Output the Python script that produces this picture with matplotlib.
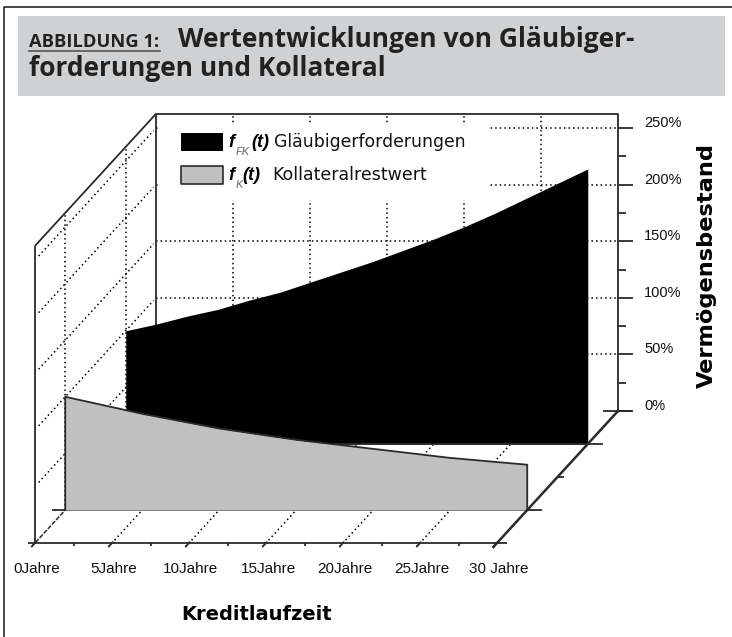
import numpy as np
import matplotlib.pyplot as plt
from matplotlib.transforms import Affine2D

years_fk = [0, 2, 4, 6, 8, 10, 12, 14, 16, 18, 20, 22, 24, 26, 28, 30]
values_fk = [100, 106, 113, 119, 127, 134, 143, 152, 161, 171, 181, 192, 204, 217, 230, 243]
years_k = [0, 5, 10, 15, 20, 25, 30]
values_k = [100, 85, 72, 62, 54, 46, 40]
year_ticks = [0, 5, 10, 15, 20, 25, 30]
year_labels = ['0Jahre', '5Jahre', '10Jahre', '15Jahre', '20Jahre', '25Jahre', '30 Jahre']
pct_ticks = [0, 50, 100, 150, 200, 250]
pct_labels = ['0%', '50%', '100%', '150%', '200%', '250%']
pct_top = 262.5
depth_fk = 0.75
depth_k = 0.25

W, H = 732, 637
DARK = '#2a2a2a'
fig = plt.figure(figsize=(W / 100, H / 100), dpi=100)
ax = fig.add_axes([0, 0, 1, 1])
ax.set_xlim(0, W)
ax.set_ylim(H, 0)
ax.axis('off')

# oblique projection: front corner (35,543), 15.4 px/year, 1.132 px/%, depth goes +121,-132 px
X0, Y0, PX_YEAR, PX_PCT, DX, DY = 35, 543, 15.4, 1.132, 121, 132


def plane(depth):
    # (year, percent) at a fixed depth
    return Affine2D().scale(PX_YEAR, -PX_PCT).translate(X0 + depth * DX, Y0 - depth * DY) + ax.transData


floor = Affine2D(np.array([[PX_YEAR, DX, X0], [0, -DY, Y0], [0, 0, 1.0]])) + ax.transData  # (year, depth)
wall = Affine2D(np.array([[DX, 0, X0], [-DY, -PX_PCT, Y0], [0, 0, 1.0]])) + ax.transData  # (depth, percent)
back = plane(1)
front = plane(0)

dots = dict(color='black', lw=1.1, ls=(0, (1, 2.0)), zorder=1)
solid = dict(color=DARK, lw=1.3, zorder=6, solid_capstyle='butt')
solid_back = dict(solid, zorder=2.5)

# frame and title box
ax.plot([3.5, 3.5, W], [H, 6.5, 6.5], color=DARK, lw=1.2)
ax.fill_between([18, 725], 16, 96, color='#d0d1d3', lw=0)
ax.text(29, 47, 'ABBILDUNG 1:', family='Open Sans', weight='bold', fontsize=13.2, color='#222222', va='baseline')
ax.plot([29, 160], [50.5, 50.5], color='#555555', lw=1.2)
ax.text(178, 47, 'Wertentwicklungen von Gläubiger-', family='Open Sans', weight='bold',
        fontsize=19, color='#222222', va='baseline')
ax.text(29, 76.5, 'forderungen und Kollateral', family='Open Sans', weight='bold',
        fontsize=19, color='#222222', va='baseline')

# dotted grid: back wall
for t in year_ticks[1:-1]:
    ax.plot([t, t], [0, 261], transform=back, **dots)
for p in pct_ticks[1:]:
    ax.plot([0, 30], [p, p], transform=back, **dots)
# dotted grid: side wall
for p in pct_ticks[1:]:
    ax.plot([0.03, 0.98], [p, p], transform=wall, **dots)
for d in [depth_k, depth_fk]:
    ax.plot([d, d], [0, pct_top], transform=wall, **dots)
# dotted grid: floor
for t in year_ticks[1:-1]:
    ax.plot([t, t], [-0.03, 1], transform=floor, **dots)

# legend background hides the grid
ax.fill_between([158, 489], 123, 200, color='white', lw=0, zorder=2)

# box edges
ax.plot([0, 0, 30, 30], [0, pct_top, pct_top, 0], transform=back, **solid_back)
ax.plot([0, 1], [pct_top, pct_top], transform=wall, **solid)
ax.plot([0, 0], [0, pct_top], transform=front, **solid)
ax.plot([0, 0], [-0.03, 1], transform=floor, color=DARK, lw=1.1, ls=(0, (3, 1)), zorder=1.5)
ax.plot([30, 30], [-0.03, 1], transform=floor, color=DARK, lw=1.8, zorder=6)
ax.plot([-0.45, 30.65], [0, 0], transform=front, **solid)
ax.plot([29.0, 30.9], [0, 0], transform=back, **solid)
ax.plot([-0.8, 30.9], [0, 0], transform=plane(depth_k), color=DARK, lw=1.3, zorder=4)
ax.plot([0, 30.9], [0, 0], transform=plane(depth_fk), color=DARK, lw=1.3, zorder=3.5)
ax.plot([30, 30.4], [0, 0], transform=plane(0.5), **solid)
# minor ticks stand straight, major ones follow the floor
for t in np.arange(0, 31, 2.5):
    if t % 5 == 0:
        ax.plot([t, t], [-0.03, 0.01], transform=floor, **solid)
    else:
        ax.plot([t, t], [-3, 0], transform=front, **solid)

# series
ax.fill_between(years_fk, 0, values_fk, transform=plane(depth_fk), color='black', lw=0, zorder=3)
ax.fill_between(years_k, 0, values_k, transform=plane(depth_k), color='#c0c0c0', lw=0, zorder=4)
ax.plot([years_k[0]] + years_k + [years_k[-1]], [0] + values_k + [0], transform=plane(depth_k),
        color=DARK, lw=1.3, zorder=5)

# right axis
for p in np.arange(0, 251, 25):
    ax.plot([30, 30 + (1.0 if p % 50 == 0 else 0.5)], [p, p], transform=back, **solid)
for p, lab in zip(pct_ticks, pct_labels):
    ax.annotate(lab, (30, p), xycoords=back, xytext=(26, 5), textcoords='offset pixels',
                family='Liberation Sans', fontsize=10.5, va='center', color='#111111')
ax.text(707, 265, 'Vermögensbestand', rotation=90, family='DejaVu Sans', weight='bold',
        fontsize=16.2, ha='center', va='center', color='black')

# bottom axis
for t, lab in zip(year_ticks, year_labels):
    ax.annotate(lab, (t, 0), xycoords=front, xytext=(2, -26), textcoords='offset pixels',
                family='Liberation Sans', fontsize=11, ha='center', va='center', color='#111111')
ax.text(257, 615, 'Kreditlaufzeit', family='DejaVu Sans', weight='bold', fontsize=14,
        ha='center', va='center', color='black')

# legend
ax.fill_between([181, 223], 133, 151, color='black', lw=0, zorder=7)
ax.fill_between([181, 223], 166, 184, color='#c0c0c0', edgecolor=DARK, lw=1.2, zorder=7)
fml = dict(family='Liberation Sans', weight='bold', style='italic', color='black', zorder=7, va='baseline')
sub = dict(family='Liberation Sans', style='italic', color='#666666', fontsize=8, zorder=7, va='baseline')
ax.text(228, 147, 'f', fontsize=13, **fml)
ax.text(236, 155, 'FK', **sub)
ax.text(251, 147, '(t)', fontsize=13, **fml)
ax.text(228, 180, 'f', fontsize=13, **fml)
ax.text(236, 188, 'K', **sub)
ax.text(242, 180, '(t)', fontsize=13, **fml)
ax.text(274, 147, 'Gläubigerforderungen', family='DejaVu Sans', fontsize=12.4, color='#111111', zorder=7, va='baseline')
ax.text(272, 180, 'Kollateralrestwert', family='DejaVu Sans', fontsize=12.5, color='#111111', zorder=7, va='baseline')

fig.savefig('out.png', dpi=100)
